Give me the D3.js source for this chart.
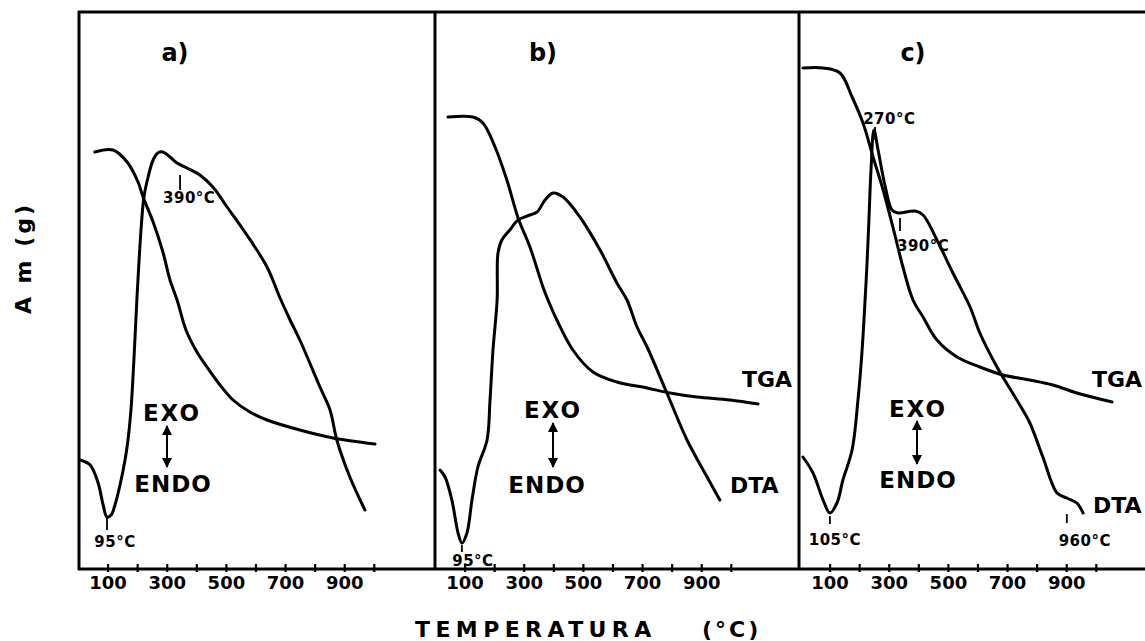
<!DOCTYPE html>
<html><head><meta charset="utf-8">
<script src="https://cdn.jsdelivr.net/npm/d3@7"></script>
<style>
body{margin:0;background:#fff}
svg{display:block}
text{font-family:"DejaVu Sans",sans-serif;font-weight:bold;fill:#000}
</style>
</head><body>
<svg id="chart" width="1145" height="641"></svg>
<script>
// ---------- data (temperature °C, signal in arbitrary units 0-100) ----------
const panelNames = ["a)", "b)", "c)"];
const tickValues = [100, 200, 300, 400, 500, 600, 700, 800, 900, 1000];
const tickLabels = [100, 300, 500, 700, 900];
const xTitle = "TEMPERATURA";
const xUnit = "(°C)";
const yTitle = "A m (g)";

const tgaA = [[57,83.6],[118,84],[166,81.6],[203,77.6],[220,74.6],[254,69.6],[287,63.6],[311,58],[335,54],[365,48],[402,43.6],[436,40.6],[480,37],[524,34],[581,31.6],[639,30],[750,28],[862,26.4],[1004,25.2]];
const dtaA = [[7,22],[41,21],[68,17.4],[85,13],[98,10.6],[112,11],[125,13],[142,17],[159,22],[169,26],[179,32],[189,42],[199,54],[213,68],[223,74.6],[237,78.6],[254,82],[270,83.4],[287,83.6],[311,82.6],[335,81.4],[368,80.4],[412,79],[456,76.6],[504,72.6],[571,67],[639,60.6],[683,54.4],[717,50],[750,46],[818,36.6],[852,32],[875,26],[919,18.6],[970,12]];

const tgaB = [[44,90.6],[128,90.6],[162,89.4],[203,84.6],[243,78],[281,70.4],[321,64.6],[365,56.6],[382,54],[412,50],[466,44],[534,39.6],[615,37.6],[717,36.4],[794,35.4],[886,34.6],[997,34],[1092,33.2]];
const dtaB = [[17,20],[34,18.6],[57,14],[78,7.4],[91,5.4],[108,7.4],[125,14],[145,20.6],[176,26],[186,34],[196,44],[210,54],[213,63.4],[226,66],[253,68],[281,70],[321,71],[345,71.6],[372,74],[399,75.4],[433,74.6],[490,70.6],[558,64],[615,57.4],[649,54],[683,48.6],[717,44.6],[784,35.4],[852,26],[920,18.6],[963,14]];

const tgaC = [[10,100.4],[78,100.4],[135,99.4],[176,94.6],[213,89.4],[247,82.6],[281,76],[314,68.6],[348,60.6],[382,54],[416,50.6],[463,46],[531,42.6],[608,40.6],[686,39],[777,38],[855,37],[936,35.4],[1055,33.6]];
const dtaC = [[10,22.6],[44,19.4],[78,14],[101,11.4],[125,13.4],[145,18],[176,24],[196,34],[210,44],[220,54],[226,60.6],[233,70],[240,80],[250,88],[264,84],[287,77],[311,72],[331,71.4],[389,71.8],[416,71],[463,66],[517,59.4],[575,52.6],[608,47.4],[666,40.6],[733,34],[777,29.4],[821,22.6],[869,15.4],[902,14.4],[936,13.4],[957,11.4]];

// peak annotations: [label, temperature, signal]
const peaksA = [["95°C", 98, 10.4], ["390°C", 345, 79]];
const peaksB = [["95°C", 91, 5.4]];
const peaksC = [["105°C", 101, 11.4], ["270°C", 254, 88.6], ["390°C", 338, 70.4], ["960°C", 902, 11.2]];

// ---------- layout ----------
const svg = d3.select("#chart");
const frameTop = 12, axisY = 569;
const panelLeft = [78, 435, 800];
const pxPer1000 = 295.8;
const y = d3.scaleLinear().domain([0, 100]).range([570, 70]);

const panels = [
  {tga: tgaA, dta: dtaA, peaks: peaksA,
   peakLay: [{d0:0,d1:12,dx:8,dy:29,a:"middle"}, {d0:0,d1:15,dx:-17,dy:28,a:"start"}],
   title:[175,61], exo:[172,421], arrow:[167,426,467], endo:[173,492], tgaLbl:null, dtaLbl:null},
  {tga: tgaB, dta: dtaB, peaks: peaksB,
   peakLay: [{d0:2,d1:9,dx:11,dy:23,a:"middle"}],
   title:[543,61], exo:[553,418], arrow:[553,423,467], endo:[547,493], tgaLbl:[742,387], dtaLbl:[730,493]},
  {tga: tgaC, dta: dtaC, peaks: peaksC,
   peakLay: [{d0:3,d1:11,dx:5,dy:32,a:"middle"}, {d0:0,d1:13,dx:-12,dy:-3,a:"start"}, {d0:0,d1:13,dx:-3,dy:33,a:"start"}, {d0:0,d1:9,dx:18,dy:32,a:"middle"}],
   title:[913,61], exo:[918,417], arrow:[917,421,464], endo:[918,488], tgaLbl:[1092,387], dtaLbl:[1093,513]}
];

// arrow markers
const defs = svg.append("defs");
defs.append("marker").attr("id","ah").attr("viewBox","0 0 10 10").attr("refX",9).attr("refY",5)
  .attr("markerWidth",5).attr("markerHeight",6).attr("orient","auto-start-reverse")
  .append("path").attr("d","M0,0L10,5L0,10z").attr("fill","#000");

// frame
const frame = svg.append("g").attr("stroke","#000").attr("stroke-width",3).attr("fill","none");
frame.append("line").attr("x1",78).attr("x2",1145).attr("y1",frameTop).attr("y2",frameTop);
frame.append("line").attr("x1",78).attr("x2",1145).attr("y1",axisY).attr("y2",axisY);
[79, 435, 799].forEach(px => frame.append("line").attr("x1",px).attr("x2",px).attr("y1",frameTop-1).attr("y2",axisY+1));

const line = d3.line().curve(d3.curveCatmullRom.alpha(0.5));

panels.forEach((p, i) => {
  const x = d3.scaleLinear().domain([0, 1000]).range([panelLeft[i], panelLeft[i] + pxPer1000]);
  const g = svg.append("g");

  // axis
  const ax = d3.axisBottom(x).tickValues(tickValues).tickSize(5)
    .tickFormat(d => tickLabels.includes(d) ? d : "");
  const axg = g.append("g").attr("transform", `translate(0,${axisY-2})`).call(ax);
  axg.select(".domain").remove();
  axg.selectAll(".tick line").attr("stroke","#000").attr("stroke-width",2.2).attr("y1",-3);
  axg.selectAll(".tick text").attr("y",22).attr("dy",0).style("font-size","18px")
     .style("font-family","DejaVu Sans").style("font-weight","bold").attr("fill","#000");

  // curves
  [p.tga, p.dta].forEach(data => {
    g.append("path").datum(data)
      .attr("d", line.x(d => x(d[0])).y(d => y(d[1])))
      .attr("fill","none").attr("stroke","#000").attr("stroke-width",3)
      .attr("stroke-linejoin","round").attr("stroke-linecap","round");
  });

  // peak markers
  p.peaks.forEach((pk, j) => {
    const L = p.peakLay[j];
    const px = x(pk[1]), py = y(pk[2]);
    g.append("line").attr("x1",px).attr("x2",px).attr("y1",py+L.d0).attr("y2",py+L.d1)
      .attr("stroke","#000").attr("stroke-width",1.8);
    g.append("text").attr("x",px+L.dx).attr("y",py+L.dy).attr("text-anchor",L.a)
      .style("font-size","15px").style("letter-spacing","0.5px").text(pk[0]);
  });

  // panel title
  g.append("text").attr("x",p.title[0]).attr("y",p.title[1]).attr("text-anchor","middle")
    .style("font-size","24px").text(panelNames[i]);

  // EXO / ENDO
  g.append("text").attr("x",p.exo[0]).attr("y",p.exo[1]).attr("text-anchor","middle")
    .style("font-size","23px").style("letter-spacing","2px").text("EXO");
  g.append("line").attr("x1",p.arrow[0]).attr("x2",p.arrow[0]).attr("y1",p.arrow[1]).attr("y2",p.arrow[2])
    .attr("stroke","#000").attr("stroke-width",2)
    .attr("marker-start","url(#ah)").attr("marker-end","url(#ah)");
  g.append("text").attr("x",p.endo[0]).attr("y",p.endo[1]).attr("text-anchor","middle")
    .style("font-size","23px").style("letter-spacing","1px").text("ENDO");

  if (p.tgaLbl) g.append("text").attr("x",p.tgaLbl[0]).attr("y",p.tgaLbl[1]).style("font-size","22px").text("TGA");
  if (p.dtaLbl) g.append("text").attr("x",p.dtaLbl[0]).attr("y",p.dtaLbl[1]).style("font-size","22px").text("DTA");
});

// axis titles
svg.append("text").attr("x",415).attr("y",637).style("font-size","22px").style("letter-spacing","5.4px").text(xTitle);
svg.append("text").attr("x",702).attr("y",637).style("font-size","22px").style("letter-spacing","3px").text(xUnit);
svg.append("text").attr("transform","translate(31,258) rotate(-90)").attr("text-anchor","middle")
  .style("font-size","22px").style("letter-spacing","3px").text(yTitle);
</script>
</body></html>
